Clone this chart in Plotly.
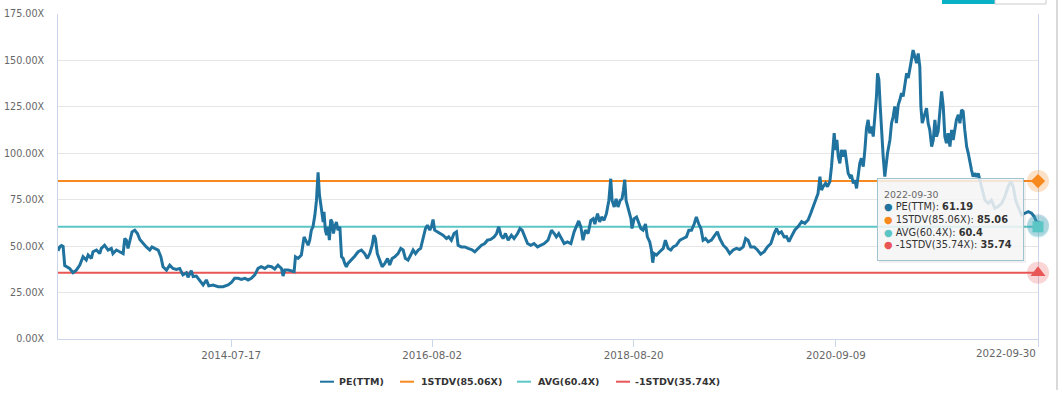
import pandas as pd
import plotly.graph_objects as go

# ---------------- data ----------------
start_date = "2012-10-12"
# observation dates expressed as days since start_date
day_offsets = [
    0, 6, 13, 19, 25, 31, 43, 56, 68, 81, 93, 105, 112, 124, 130, 143, 155, 161, 173, 186,
    198, 204, 217, 229, 242, 248, 254, 260, 266, 275, 285, 295, 304, 316, 328, 341, 349, 359, 372, 382,
    390, 403, 415, 427, 440, 452, 464, 477, 483, 495, 502, 514, 526, 539, 551, 560, 576, 595, 613, 632,
    644, 656, 669, 681, 694, 706, 718, 731, 743, 755, 768, 780, 793, 805, 817, 830, 836, 842, 855, 869,
    877, 882, 892, 904, 914, 923, 929, 935, 941, 947, 954, 960, 966, 971, 976, 981, 985, 988, 993, 998,
    1003, 1008, 1013, 1018, 1023, 1028, 1034, 1040, 1047, 1053, 1059, 1065, 1071, 1077, 1090, 1102, 1115, 1127, 1139, 1149,
    1158, 1167, 1173, 1179, 1186, 1195, 1204, 1214, 1224, 1232, 1241, 1251, 1263, 1273, 1282, 1290, 1300, 1310, 1319, 1328,
    1338, 1347, 1356, 1365, 1372, 1381, 1387, 1393, 1399, 1409, 1418, 1430, 1443, 1451, 1461, 1471, 1480, 1486, 1498, 1511,
    1523, 1536, 1548, 1560, 1573, 1585, 1595, 1607, 1620, 1629, 1637, 1645, 1653, 1662, 1672, 1684, 1694, 1707, 1716, 1724,
    1734, 1744, 1756, 1768, 1781, 1793, 1806, 1820, 1833, 1843, 1851, 1860, 1870, 1880, 1892, 1905, 1917, 1926, 1934, 1942,
    1950, 1959, 1969, 1979, 1988, 1994, 2004, 2012, 2019, 2028, 2037, 2046, 2053, 2058, 2066, 2073, 2080, 2088, 2095, 2100,
    2105, 2110, 2118, 2128, 2132, 2140, 2149, 2155, 2165, 2173, 2182, 2189, 2198, 2204, 2209, 2214, 2223, 2235, 2248, 2256,
    2266, 2276, 2285, 2297, 2310, 2322, 2334, 2343, 2353, 2363, 2371, 2380, 2388, 2396, 2405, 2415, 2427, 2440, 2449, 2458,
    2471, 2483, 2495, 2508, 2520, 2532, 2545, 2554, 2563, 2573, 2586, 2598, 2610, 2623, 2635, 2648, 2660, 2669, 2677, 2687,
    2697, 2706, 2715, 2724, 2737, 2749, 2762, 2774, 2786, 2796, 2805, 2814, 2823, 2830, 2836, 2842, 2851, 2858, 2867, 2873,
    2879, 2883, 2888, 2893, 2898, 2904, 2910, 2916, 2923, 2929, 2935, 2941, 2947, 2954, 2960, 2966, 2972, 2978, 2984, 2991,
    2997, 3003, 3009, 3015, 3022, 3028, 3034, 3040, 3044, 3049, 3054, 3059, 3065, 3071, 3077, 3081, 3090, 3096, 3102, 3108,
    3114, 3121, 3127, 3133, 3139, 3145, 3152, 3158, 3164, 3170, 3176, 3183, 3189, 3195, 3201, 3205, 3210, 3217, 3226, 3232,
    3238, 3245, 3251, 3257, 3263, 3269, 3275, 3282, 3288, 3294, 3300, 3306, 3313, 3319, 3325, 3331, 3337, 3344, 3350, 3356,
    3362, 3368, 3375, 3381, 3387, 3393, 3399, 3405, 3412, 3418, 3424, 3430, 3443, 3455, 3467, 3480, 3492, 3505, 3517, 3529,
    3539, 3548, 3557, 3566, 3579, 3591, 3604, 3616, 3626, 3640,
]
pe_ttm = [
    47.5, 49.5, 50.3, 49.8, 39.5, 38.9, 38.0, 35.7, 37.1, 39.8, 44.3, 42.5, 45.2, 43.4, 47.0, 47.9, 46.0, 48.8, 50.5, 47.9,
    48.8, 46.0, 47.9, 47.0, 46.0, 54.1, 53.2, 48.8, 53.2, 57.7, 58.6, 56.8, 53.6, 51.4, 49.6, 47.9, 49.6, 48.8, 47.9, 44.3,
    38.9, 37.1, 39.8, 38.0, 37.5, 38.0, 34.5, 35.7, 33.2, 36.8, 33.6, 33.9, 31.4, 29.1, 31.8, 28.6, 29.1, 28.2, 28.2, 29.1,
    30.4, 32.7, 32.7, 32.1, 32.7, 31.8, 32.7, 34.5, 38.0, 38.9, 38.0, 39.3, 38.9, 37.7, 39.8, 38.0, 33.9, 37.1, 37.1, 36.8,
    36.3, 44.3, 43.4, 45.2, 55.0, 52.3, 50.5, 53.2, 58.6, 60.4, 66.6, 74.6, 89.8, 77.9, 72.5, 67.5, 63.0, 68.4, 58.6, 55.9,
    60.4, 53.2, 64.3, 63.0, 56.8, 60.4, 63.0, 58.6, 60.4, 44.3, 43.4, 40.7, 38.9, 40.7, 42.5, 44.6, 47.0, 47.9, 46.0, 43.4,
    46.0, 50.5, 55.9, 54.1, 46.0, 42.5, 38.9, 40.7, 43.4, 39.8, 43.4, 44.3, 46.0, 48.8, 47.9, 43.4, 42.5, 45.2, 47.9, 46.0,
    47.9, 48.8, 54.1, 59.5, 61.3, 58.6, 60.4, 64.3, 58.6, 57.7, 56.8, 55.9, 54.1, 55.0, 53.2, 56.8, 57.7, 50.5, 49.6, 49.6,
    48.8, 48.2, 47.0, 48.8, 50.5, 51.4, 53.2, 53.6, 55.0, 56.8, 60.4, 55.9, 54.1, 56.8, 53.2, 55.9, 54.1, 56.8, 59.5, 58.6,
    55.0, 51.4, 50.5, 51.4, 49.6, 50.5, 51.4, 53.2, 58.6, 56.8, 55.0, 56.8, 54.1, 51.4, 52.3, 51.4, 57.7, 61.3, 63.6, 60.4,
    53.2, 58.6, 56.8, 63.9, 64.8, 61.9, 67.5, 63.0, 65.7, 63.9, 67.5, 74.6, 86.3, 74.6, 71.1, 75.5, 71.1, 74.6, 75.5, 80.0,
    85.8, 74.6, 70.3, 64.8, 59.5, 64.8, 65.7, 63.0, 59.5, 58.6, 61.9, 55.0, 52.3, 47.9, 41.1, 46.0, 45.2, 47.0, 48.8, 53.2,
    48.8, 47.9, 49.6, 50.5, 53.2, 54.1, 55.0, 58.6, 58.6, 61.9, 65.7, 61.9, 59.5, 53.2, 54.1, 52.3, 53.2, 55.9, 57.7, 54.1,
    50.5, 48.8, 46.0, 47.9, 48.8, 48.2, 49.6, 54.1, 53.2, 49.6, 49.6, 47.9, 45.7, 47.0, 49.6, 51.4, 56.8, 59.5, 56.8, 57.7,
    55.0, 55.1, 52.4, 55.1, 58.7, 60.5, 63.2, 62.3, 64.1, 67.7, 71.3, 74.8, 78.4, 87.4, 80.2, 82.0, 83.8, 82.0, 84.7, 92.8,
    103.6, 110.8, 101.8, 107.2, 98.2, 94.6, 101.8, 98.2, 101.8, 94.6, 89.2, 87.4, 88.3, 83.8, 85.6, 81.1, 87.4, 94.6, 97.3, 92.8,
    101.8, 113.5, 118.0, 110.8, 114.4, 109.0, 119.8, 130.6, 143.1, 139.6, 125.2, 109.0, 98.2, 87.4, 95.0, 100.0, 107.2, 116.2, 119.8, 125.2,
    116.2, 126.1, 128.8, 132.4, 130.6, 136.9, 143.1, 140.5, 146.7, 150.3, 155.6, 152.1, 148.5, 153.8, 146.7, 125.2, 116.2, 119.8, 124.3, 116.2,
    112.6, 103.6, 107.2, 118.0, 109.0, 111.7, 121.6, 133.3, 125.2, 109.0, 105.4, 110.8, 103.6, 112.6, 107.2, 112.6, 118.0, 120.7, 116.2, 123.4,
    122.5, 112.6, 103.6, 100.0, 94.6, 91.0, 87.4, 89.2, 87.4, 89.2, 85.6, 82.0, 74.8, 73.0, 74.8, 70.4, 71.3, 73.0, 76.6, 82.0,
    84.7, 82.0, 74.8, 71.3, 66.8, 67.7, 68.6, 67.7, 65.9, 61.19,
]
stdv_plus = 85.06
avg_pe = 60.4
stdv_minus = 35.74
y_ticks = [0, 25, 50, 75, 100, 125, 150, 175]
tick_dates = ["2014-07-17", "2016-08-02", "2018-08-20", "2020-09-09", "2022-09-30"]
hover_date = "2022-09-30"

series_names = ["PE(TTM)", "1STDV(85.06X)", "AVG(60.4X)", "-1STDV(35.74X)"]
series_colors = ["#20739f", "#f7891f", "#5cc6c6", "#e85656"]

# ---------------- build ----------------
dates = pd.Timestamp(start_date) + pd.to_timedelta(day_offsets, unit="D")
x_first, x_last = dates[0], dates[-1]

W, H = 1062, 395
ML, MR, MT, MB = 58, 24, 14, 56
PW, PH = W - ML - MR, H - MT - MB
FONT = "DejaVu Sans"


def xp(px):
    return (px - ML) / PW


def yp(py):
    return (H - MB - py) / PH


fig = go.Figure()

# reference lines
for val, col, name in [(stdv_plus, series_colors[1], series_names[1]),
                       (avg_pe, series_colors[2], series_names[2]),
                       (stdv_minus, series_colors[3], series_names[3])]:
    fig.add_trace(go.Scatter(x=[x_first, x_last], y=[val, val], mode="lines",
                             line=dict(color=col, width=2), name=name,
                             showlegend=False, hoverinfo="skip"))

# PE line
fig.add_trace(go.Scatter(x=dates, y=pe_ttm, mode="lines", name=series_names[0],
                         line=dict(color=series_colors[0], width=3, shape="linear"),
                         showlegend=False, hoverinfo="skip"))

# hover state markers (halo + marker) at the hovered date
hover_vals = [pe_ttm[-1], stdv_plus, avg_pe, stdv_minus]
hover_symbols = ["circle", "diamond", "square", "triangle-up"]
hover_sizes = [9, 11, 11, 13]
for v, col, sym, sz in zip(hover_vals, series_colors, hover_symbols, hover_sizes):
    fig.add_trace(go.Scatter(x=[hover_date], y=[v], mode="markers", cliponaxis=False,
                             marker=dict(symbol="circle", size=22, color=col, opacity=0.25),
                             showlegend=False, hoverinfo="skip"))
    fig.add_trace(go.Scatter(x=[hover_date], y=[v], mode="markers", cliponaxis=False,
                             marker=dict(symbol=sym, size=sz, color=col),
                             showlegend=False, hoverinfo="skip"))

fig.update_layout(
    width=W, height=H,
    margin=dict(l=ML, r=MR, t=MT, b=MB, pad=0),
    paper_bgcolor="white", plot_bgcolor="white",
    font=dict(family=FONT, size=10, color="#333333"),
    showlegend=False,
    xaxis=dict(
        type="date", range=[x_first, x_last],
        tickvals=tick_dates, ticktext=tick_dates[:-1] + [""],
        ticks="outside", ticklen=7, tickcolor="#ccd6eb", tickwidth=1,
        showline=True, linecolor="#ccd6eb", linewidth=1, layer="below traces",
        showgrid=False, zeroline=False, automargin=False,
        tickfont=dict(family=FONT, size=10.3, color="#666666"),
    ),
    yaxis=dict(
        range=[0, 175], tickvals=y_ticks, ticktext=["%.2fX" % v for v in y_ticks],
        showgrid=True, gridcolor="#e6e6e6", gridwidth=1,
        showline=True, linecolor="#ccd6eb", linewidth=1, mirror=True, layer="below traces",
        zeroline=False, ticks="", automargin=False, ticklabelstandoff=11,
        tickfont=dict(family=FONT, size=9.6, color="#666666"),
    ),
)

shapes = []
annotations = []

# last x tick label justified inside the chart
annotations.append(dict(xref="paper", yref="paper", x=1.0, y=yp(353), xanchor="right",
                        yanchor="middle", text=tick_dates[-1], showarrow=False,
                        font=dict(family=FONT, size=10.3, color="#666666")))

# custom legend
leg_y = yp(381.7)
legend_items = [(320, 334, 336.5), (400, 414, 419), (517, 531, 536), (616, 630, 633)]
for (l0, l1, tx), name, col in zip(legend_items, series_names, series_colors):
    shapes.append(dict(type="line", xref="paper", yref="paper", x0=xp(l0), x1=xp(l1),
                       y0=leg_y, y1=leg_y, line=dict(color=col, width=2)))
    annotations.append(dict(xref="paper", yref="paper", x=xp(tx), y=leg_y, xanchor="left",
                            yanchor="middle", text="<b>%s</b>" % name, showarrow=False,
                            font=dict(family=FONT, size=9.5, color="#333333")))

# tooltip shadow
shapes.append(dict(type="rect", xref="paper", yref="paper", layer="above",
                   x0=xp(879), x1=xp(1026), y0=yp(180), y1=yp(263),
                   fillcolor="rgba(0,0,0,0.06)", line=dict(width=0)))

tip_lines = ["<span style='font-size:9.4px;color:#666666'>%s</span>" % hover_date]
for name, col, v in zip(series_names, series_colors, hover_vals):
    tip_lines.append("<span style='color:%s'>●</span> %s: <b>%s</b>" % (col, name, ("%g" % v)))
annotations.append(dict(xref="paper", yref="paper", x=xp(877), y=yp(178), xanchor="left",
                        yanchor="top", text="<br>".join(tip_lines), showarrow=False,
                        align="left", valign="middle", width=133, height=69, borderpad=6,
                        bgcolor="rgba(247,247,247,0.85)", bordercolor="#9fc4d0", borderwidth=1,
                        font=dict(family=FONT, size=9.8, color="#333333")))

# top-right toggle button (partially visible)
shapes.append(dict(type="rect", xref="paper", yref="paper", x0=xp(942), x1=xp(995),
                   y0=yp(4), y1=yp(-2), fillcolor="#08b1c6", line=dict(width=0)))
shapes.append(dict(type="rect", xref="paper", yref="paper", x0=xp(995), x1=xp(1046),
                   y0=yp(4), y1=yp(-2), fillcolor="white", line=dict(color="#cccccc", width=1)))
# right page border
shapes.append(dict(type="line", xref="paper", yref="paper", x0=xp(1057), x1=xp(1057),
                   y0=yp(0), y1=yp(390), line=dict(color="#d9d9d9", width=2)))

fig.update_layout(shapes=shapes, annotations=annotations)
fig.write_html("out.html", config={"displayModeBar": False},
               post_script="document.body.style.margin='0px';")
